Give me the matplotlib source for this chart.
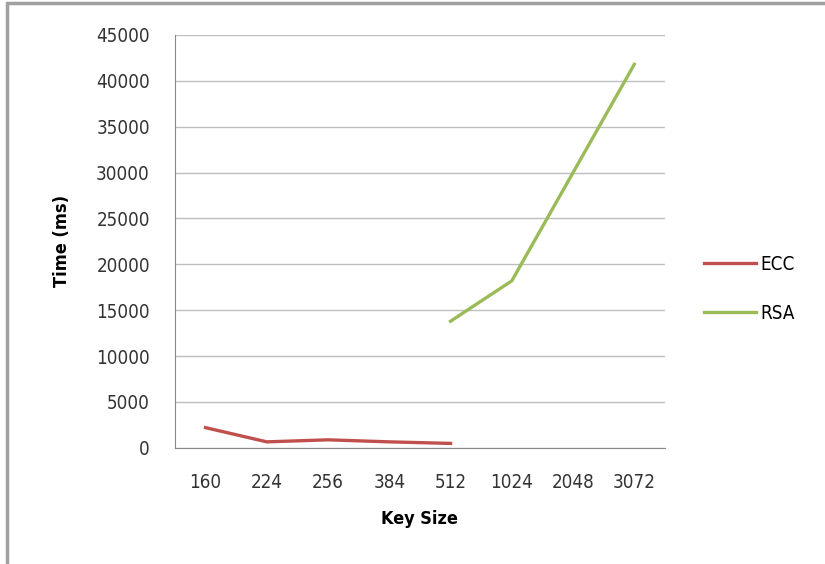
import matplotlib.pyplot as plt
import numpy as np

key_sizes = ["160", "224", "256", "384", "512", "1024", "2048", "3072"]
ecc_time = [2200, 650, 870, 650, 480]
rsa_time = [13800, 18200, 30000, 41800]

plt.rcParams['font.family'] = ['DejaVu Sans']
plt.rcParams['font.stretch'] = 'condensed'

fig = plt.figure(figsize=(8.25, 5.64), dpi=100)
ax = fig.add_axes([0.212, 0.206, 0.594, 0.732])

x = np.arange(len(key_sizes))
ax.plot(x[:len(ecc_time)], ecc_time, color='#C0504D', linewidth=2.4, label="ECC")
ax.plot(x[4:4 + len(rsa_time)], rsa_time, color='#9BBB59', linewidth=2.4, label="RSA")

ax.set_xlim(-0.5, 7.5)
ax.set_ylim(0, 45000)
ax.set_yticks(np.arange(0, 45001, 5000))
ax.set_xticks(x, key_sizes)
ax.grid(axis='y', color='#BEBEBE', linewidth=1.0)
ax.set_axisbelow(True)
for s in ['top', 'right']:
    ax.spines[s].set_visible(False)
ax.spines['left'].set_color('#888888')
ax.spines['bottom'].set_color('#888888')
ax.tick_params(axis='both', length=0, labelsize=13.5, colors='#333333')
ax.tick_params(axis='x', pad=18)
ax.tick_params(axis='y', pad=18)

ax.set_xlabel("Key Size", fontsize=13, fontweight='bold', labelpad=13)
ax.set_ylabel("Time (ms)", fontsize=13, fontweight='bold', labelpad=18)

ax.legend(loc='center left', bbox_to_anchor=(1.045, 0.385), frameon=False,
          fontsize=13.5, handlelength=2.8, labelspacing=1.6, handletextpad=0.2)

# outer frame of the chart area
fig.patches.append(plt.Rectangle((0.009, -0.01), 1.2, 1.005, transform=fig.transFigure,
                                 fill=False, edgecolor='#A0A0A0', linewidth=2.5))

fig.savefig('out.png', dpi=100)
